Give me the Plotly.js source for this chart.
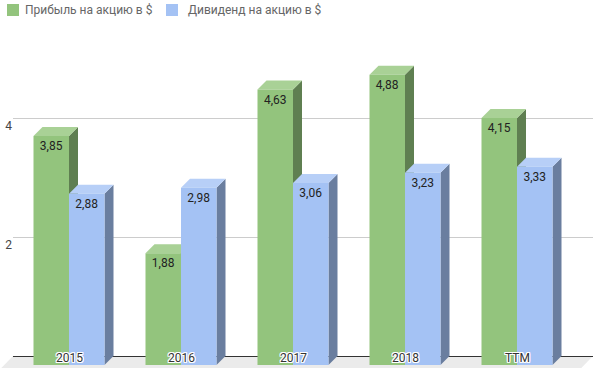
<!DOCTYPE html>
<html>
<head>
<meta charset="utf-8">
<script src="https://cdn.plot.ly/plotly-3.0.1.min.js"></script>
<style>html,body{margin:0;padding:0;background:#fff;}#chart{width:593px;height:368px;}</style>
</head>
<body>
<div id="chart"></div>
<script>
// ---- data ----
const categories = ['2015', '2016', '2017', '2018', 'TTM'];
const profit = [3.85, 1.88, 4.63, 4.88, 4.15];
const dividend = [2.88, 2.98, 3.06, 3.23, 3.33];
const seriesNames = ['Прибыль на акцию в $', 'Дивиденд на акцию в $'];
const yTickVals = [2, 4];
const yTickText = ['2', '4'];

// ---- styling / geometry ----
const W = 593, H = 368;
const M = {l: 13, r: 0, t: 30, b: 0, autoexpand: false};
const plotW = W - M.l - M.r, plotH = H - M.t - M.b;
const pxPerX = 112;          // pixels per category step
const pxPerY = 59.5;         // pixels per unit
const xMin = -65 / pxPerX, xMax = xMin + plotW / pxPerX;
const yMin = -12 / pxPerY, yMax = yMin + plotH / pxPerY;
const DX = 9 / pxPerX, DY = 9 / pxPerY;   // 3D depth offset
const BW = 35.5 / pxPerX;                // bar width

const series = [
  {name: seriesNames[0], vals: profit,   off: -BW - DX, front: '#93c47d', side: '#5f7f51', top: '#a9d196'},
  {name: seriesNames[1], vals: dividend, off: -DX,      front: '#a4c2f4', side: '#6a7e9f', top: '#b7cff7'}
];

const idx = categories.map((c, i) => i);
const fmt = v => v.toFixed(2).replace('.', ',');

const traces = series.map(s => ({
  type: 'bar',
  name: s.name,
  x: idx,
  y: s.vals,
  base: -DY,
  width: BW,
  offset: s.off,
  marker: {color: s.front, line: {width: 0}},
  text: s.vals.map(fmt),
  texttemplate: '%{text}',
  textposition: 'inside',
  insidetextanchor: 'end',
  textangle: 0,
  constraintext: 'none',
  insidetextfont: {family: 'Roboto', size: 12, color: '#222'},
  hoverinfo: 'skip',
  showlegend: false
}));

const shapes = [];
// floor
const p0 = (0 - yMin) / (yMax - yMin);
const slant = 15 / plotW;
shapes.push({
  type: 'path', xref: 'paper', yref: 'paper', layer: 'below',
  path: `M 0 ${p0} L 1 ${p0} L ${1 - slant} -0.01 L ${-slant} -0.01 Z`,
  fillcolor: '#ebebeb', line: {width: 0}
});
// 3D side and top faces
series.forEach(s => {
  s.vals.forEach((v, i) => {
    const xl = i + s.off, xr = xl + BW, yb = -DY, yt = v - DY;
    shapes.push({
      type: 'path', xref: 'x', yref: 'y', layer: 'between',
      path: `M ${xr} ${yb} L ${xr} ${yt} L ${xr + DX} ${yt + DY} L ${xr + DX} ${yb + DY} Z`,
      fillcolor: s.side, line: {width: 0}
    });
    shapes.push({
      type: 'path', xref: 'x', yref: 'y', layer: 'between',
      path: `M ${xl} ${yt} L ${xr} ${yt} L ${xr + DX} ${yt + DY} L ${xl + DX} ${yt + DY} Z`,
      fillcolor: s.top, line: {width: 0}
    });
  });
});

// legend (swatch + label) in pixel positions converted to paper coords
const px2x = px => (px - M.l) / plotW;
const py2y = py => 1 - (py - M.t) / plotH;
const legendItems = [{sw: 7, tx: 23}, {sw: 166, tx: 186}];
const annotations = [];
legendItems.forEach((it, k) => {
  shapes.push({
    type: 'rect', xref: 'paper', yref: 'paper', layer: 'above',
    x0: px2x(it.sw), x1: px2x(it.sw + 12), y0: py2y(4), y1: py2y(16),
    fillcolor: series[k].front, line: {width: 0}
  });
  annotations.push({
    xref: 'paper', yref: 'paper', x: px2x(it.tx), y: py2y(10.5),
    xanchor: 'left', yanchor: 'middle', showarrow: false,
    text: series[k].name,
    font: {family: 'Roboto', size: 12, color: '#666'}
  });
});

const halo = '-1px -1px 0 #fff, 1px -1px 0 #fff, -1px 1px 0 #fff, 1px 1px 0 #fff, 0 1px 0 #fff, 0 -1px 0 #fff, 1px 0 0 #fff, -1px 0 0 #fff';
categories.forEach((c, i) => annotations.push({
  x: i - DX, y: -2 / pxPerY, xref: 'x', yref: 'y',
  text: c, showarrow: false, xanchor: 'center', yanchor: 'middle',
  font: {family: 'Roboto', size: 12, color: '#333', shadow: halo}
}));

const layout = {
  width: W, height: H,
  margin: M,
  paper_bgcolor: '#fff', plot_bgcolor: '#fff',
  separators: ', ',
  barmode: 'overlay',
  showlegend: false,
  xaxis: {
    range: [xMin, xMax], showgrid: false, zeroline: false,
    showticklabels: false, ticks: '', showline: false, fixedrange: true
  },
  yaxis: {
    range: [yMin, yMax], tickvals: yTickVals, ticktext: yTickText,
    showgrid: true, gridcolor: '#cccccc', gridwidth: 1,
    zeroline: true, zerolinecolor: '#333333', zerolinewidth: 1,
    showline: false, ticks: '',
    ticklabelshift: 8, ticklabelstandoff: 0,
    tickfont: {family: 'Roboto', size: 12, color: '#444'},
    fixedrange: true
  },
  shapes: shapes,
  annotations: annotations,
  font: {family: 'Roboto'}
};

Plotly.newPlot('chart', traces, layout, {displayModeBar: false, staticPlot: true});
</script>
</body>
</html>
